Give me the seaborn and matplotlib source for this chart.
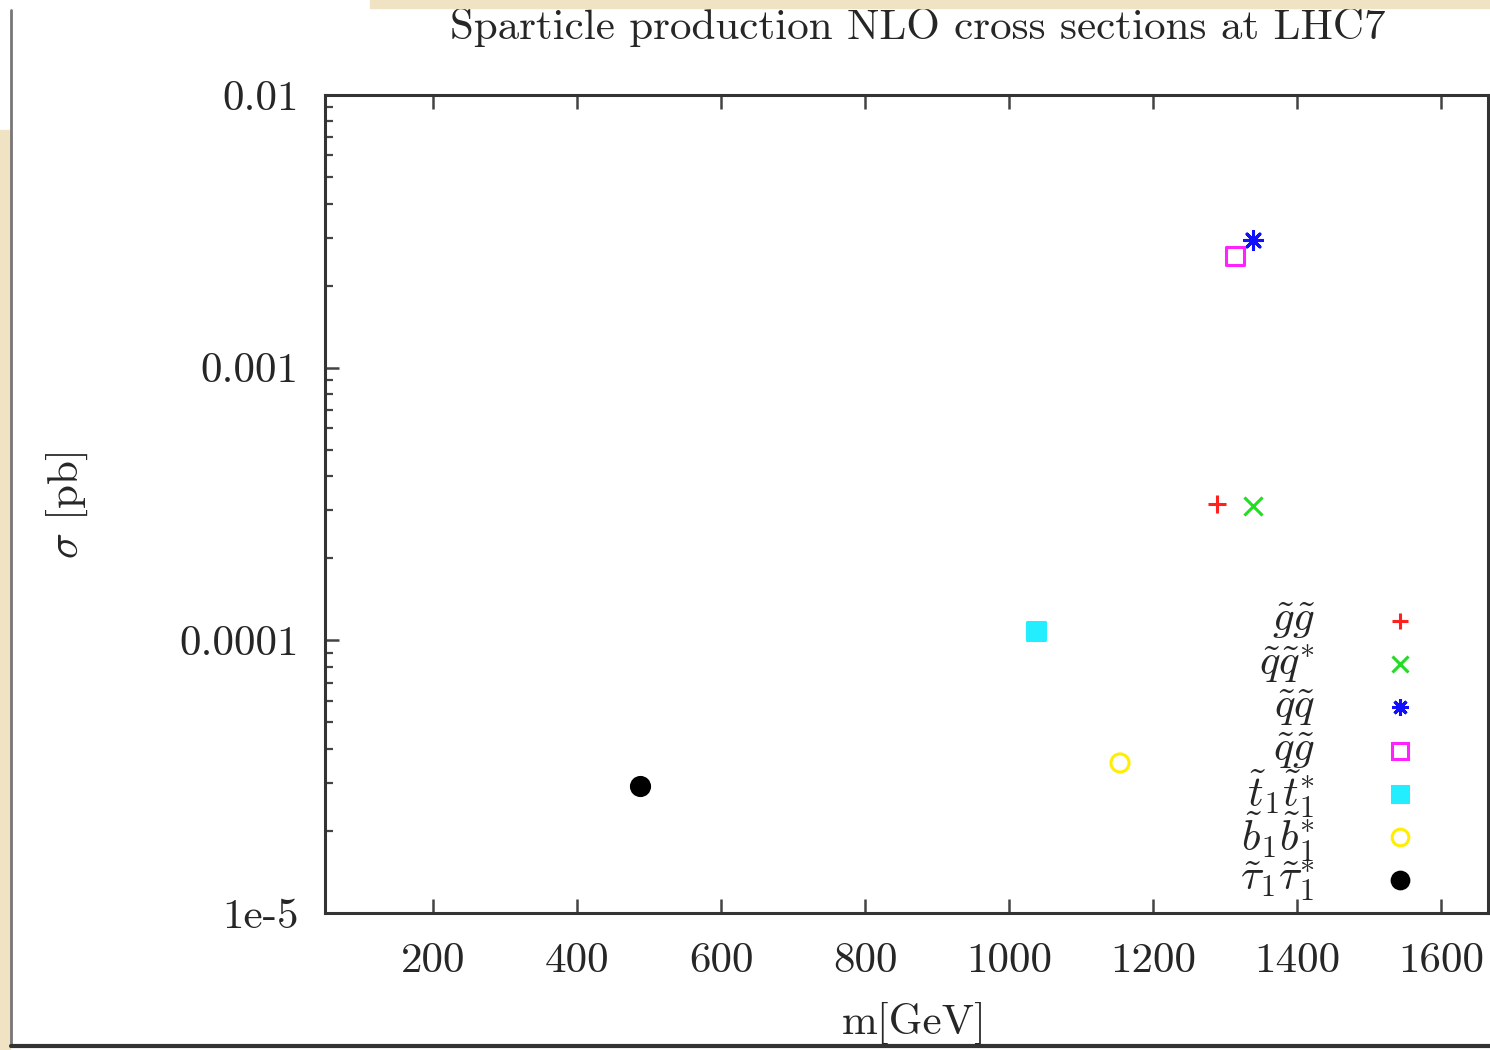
import matplotlib
matplotlib.use("Agg")
import matplotlib.pyplot as plt
import numpy as np
import pandas as pd
import seaborn as sns
from matplotlib.lines import Line2D
from matplotlib.patches import Rectangle

# masses [GeV] and NLO cross sections [pb]
channels = ["gg", "qq*", "qq", "qg", "t1t1*", "b1b1*", "tau1tau1*"]
mass = [1288, 1339, 1338, 1314, 1037, 1154, 488]
sigma = [3.15e-4, 3.1e-4, 2.94e-3, 2.57e-3, 1.08e-4, 3.55e-5, 2.92e-5]
labels = [
    r"$\tilde{g}\tilde{g}$",
    r"$\tilde{q}\tilde{q}^{*}$",
    r"$\tilde{q}\tilde{q}$",
    r"$\tilde{q}\tilde{g}$",
    r"$\tilde{t}_1\tilde{t}_1^{*}$",
    r"$\tilde{b}_1\tilde{b}_1^{*}$",
    r"$\tilde{\tau}_1\tilde{\tau}_1^{*}$",
]
colors = ["#ff2020", "#22dd22", "#1010ff", "#ff22ff", "#22eeff", "#ffee00", "#000000"]
markers = ["+", "x", (8, 2, 0), "s", "s", "o", "o"]
filled = [True, True, True, False, True, False, True]

x_ticks = [200, 400, 600, 800, 1000, 1200, 1400, 1600]
y_ticks = [1e-5, 1e-4, 1e-3, 1e-2]
y_ticklabels = ["1e-5", "0.0001", "0.001", "0.01"]

df = pd.DataFrame({"channel": channels, "mass": mass, "sigma": sigma})

sns.set_theme(style="ticks")
plt.rcParams["font.family"] = ["cmr10", "DejaVu Serif"]
plt.rcParams["mathtext.fontset"] = "cm"
plt.rcParams["axes.unicode_minus"] = False
plt.rcParams["axes.formatter.use_mathtext"] = True

fig = plt.figure(figsize=(14.9, 10.5), dpi=100, facecolor="white")
ax = fig.add_axes([325 / 1490, 1 - 913 / 1050, 1163 / 1490, 818 / 1050])

for i, row in df.iterrows():
    kw = dict(s=170, linewidth=2.2, zorder=3)
    if filled[i]:
        kw.update(color=colors[i], edgecolor=colors[i] if markers[i] in ("s", "o") else None)
    else:
        kw.update(facecolor="none", edgecolor=colors[i])
    if markers[i] in ("+", "x", (8, 2, 0)):
        kw.pop("edgecolor", None)
    sns.scatterplot(x=[row["mass"]], y=[row["sigma"]], marker=markers[i], ax=ax,
                    legend=False, **kw)

ax.set_yscale("log")
ax.set_xlim(50, 1665)
ax.set_ylim(1e-5, 1e-2)
ax.set_xticks(x_ticks)
ax.set_xticklabels([str(t) for t in x_ticks])
ax.set_yticks(y_ticks)
ax.set_yticklabels(y_ticklabels)
ax.yaxis.set_minor_locator(matplotlib.ticker.LogLocator(base=10, subs=np.arange(2, 10)))
ax.yaxis.set_minor_formatter(matplotlib.ticker.NullFormatter())

for side in ["left", "bottom", "top", "right"]:
    ax.spines[side].set_linewidth(2.2)
    ax.spines[side].set_color("#333333")
ax.tick_params(axis="both", which="major", direction="in", length=10, width=1.8,
               color="#444444", labelsize=31, top=True, right=False, pad=19)
ax.tick_params(axis="y", which="minor", direction="in", length=6, width=1.6,
               color="#444444", right=False)
ax.tick_params(axis="x", which="major", pad=21)

ax.set_xlabel("m[GeV]", fontsize=31)
ax.xaxis.set_label_coords(0.507, -0.108)
ax.set_ylabel(r"$\sigma$ [pb]", fontsize=31)
ax.yaxis.set_label_coords(-0.202, 0.499)
ax.text(0.51, 1.082, "Sparticle production NLO cross sections at LHC7",
        transform=ax.transAxes, ha="center", va="center", fontsize=31)

# key drawn gnuplot-style: right-aligned labels, marker to the right
row_y = 0.357
for i, lab in enumerate(labels):
    yy = row_y - i * 0.0528
    ax.text(0.851, yy, lab, transform=ax.transAxes, ha="right", va="center",
            fontsize=31)
    mfc = colors[i] if filled[i] else "none"
    ax.add_line(Line2D([0.924], [yy], transform=ax.transAxes, marker=markers[i],
                       markersize=12, markeredgewidth=2.2, color=colors[i],
                       markerfacecolor=mfc, linestyle="none"))

# screenshot window frame
fig.patches.append(Rectangle((370 / 1490, 1 - 8 / 1050), 1 - 370 / 1490, 8 / 1050,
                             transform=fig.transFigure, color="#efe3c4", zorder=0))
fig.patches.append(Rectangle((0, 0), 10 / 1490, 1 - 130 / 1050,
                             transform=fig.transFigure, color="#efe3c4", zorder=0))
fig.lines.append(Line2D([11 / 1490, 11 / 1490], [4 / 1050, 1 - 10 / 1050],
                        transform=fig.transFigure, color="#777777", lw=2))
fig.lines.append(Line2D([11 / 1490, 1], [4 / 1050, 4 / 1050],
                        transform=fig.transFigure, color="#333333", lw=3))

fig.savefig("out.png", dpi=100, facecolor="white")
